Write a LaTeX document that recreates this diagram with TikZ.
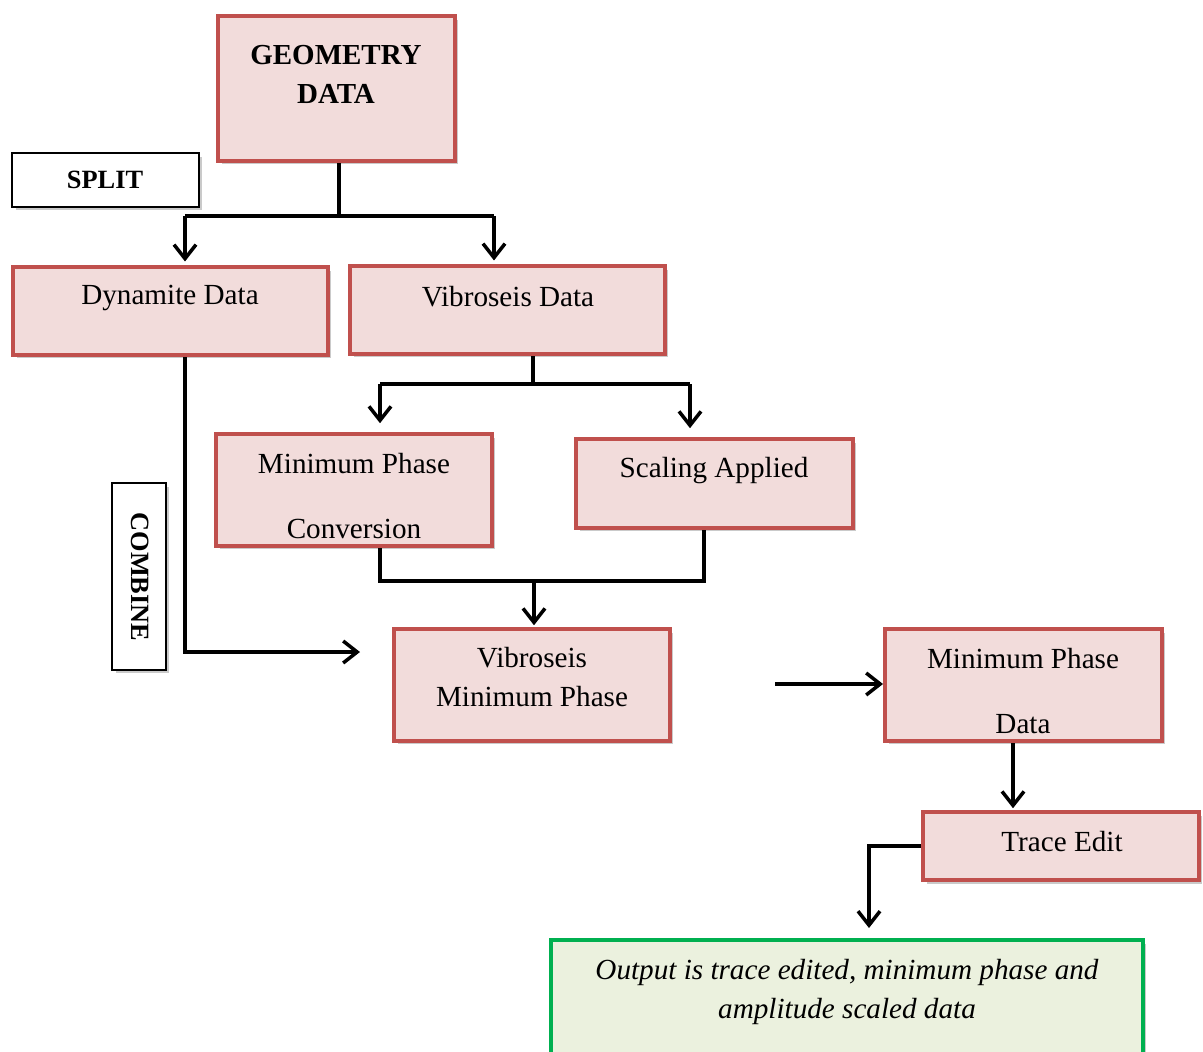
\documentclass[tikz,border=0pt]{standalone}
\usepackage{fontspec}
\setmainfont{Liberation Serif}
\usepackage{xcolor}
\definecolor{clStepLine}{HTML}{C0504D}
\definecolor{clStepFill}{HTML}{F2DCDB}
\definecolor{clOutLine}{HTML}{00B050}
\definecolor{clOutFill}{HTML}{EBF1DE}
\usepackage{tikz}
\usetikzlibrary{arrows.meta,positioning,calc,shadows}

\begin{document}
\begin{tikzpicture}[x=0.02cm,y=-0.02cm,
  every node/.style={font=\fontsize{16.6}{19}\selectfont,inner sep=0pt},
  boxshadow/.style={drop shadow={shadow xshift=0.07cm,shadow yshift=-0.07cm,opacity=0.35,fill=black!60}},
  stepbox/.style={draw=clStepLine,fill=clStepFill,line width=2.3pt,boxshadow},
  tagbox/.style={draw=black,fill=white,line width=1.2pt,boxshadow},
  outbox/.style={draw=clOutLine,fill=clOutFill,line width=2.3pt,boxshadow},
  flow/.style={line width=2pt},
  flowarr/.style={flow,-{Straight Barb[length=0.28cm,width=0.44cm]}}]
  \clip (0,0) rectangle (1203,1051);
  % boxes
  \node[stepbox,minimum width=4.74cm,minimum height=2.9cm] (geo) at (336.5,88.5) {};
  \node[tagbox,minimum width=3.74cm,minimum height=1.08cm] (split) at (105.5,180) {};
  \node[stepbox,minimum width=6.3cm,minimum height=1.76cm] (dyn) at (170.5,311) {};
  \node[stepbox,minimum width=6.3cm,minimum height=1.76cm] (vib) at (507.5,310) {};
  \node[stepbox,minimum width=5.52cm,minimum height=2.24cm] (mpc) at (354,490) {};
  \node[stepbox,minimum width=5.54cm,minimum height=1.78cm] (scl) at (714.5,483.5) {};
  \node[tagbox,minimum width=1.08cm,minimum height=3.74cm] (comb) at (139,576.5) {};
  \node[stepbox,minimum width=5.52cm,minimum height=2.24cm] (vmp) at (532,685) {};
  \node[stepbox,minimum width=5.54cm,minimum height=2.24cm] (mpd) at (1023.5,685) {};
  \node[stepbox,minimum width=5.52cm,minimum height=1.36cm] (te) at (1061,846) {};
  \node[outbox,minimum width=11.84cm,minimum height=2.4cm] (out) at (847,1000) {};
  % texts
  \node[font=\fontsize{16.5}{22.2}\selectfont\bfseries,align=center] (geoT) at (336,74) {GEOMETRY\\DATA};
  \node[font=\fontsize{15}{18}\selectfont\bfseries] (splitT) at (105,180) {SPLIT};
  \node[font=\fontsize{15}{18}\selectfont\bfseries,rotate=-90] (combT) at (140,577) {COMBINE};
  \node (dynT) at (170,298) {Dynamite Data};
  \node (vibT) at (508,297) {Vibroseis Data};
  \node[font=\fontsize{16.6}{37.5}\selectfont,align=center] (mpcT) at (354,496) {Minimum Phase\\Conversion};
  \node (sclT) at (714,471) {Scaling Applied};
  \node[font=\fontsize{16.6}{22.2}\selectfont,align=center] (vmpT) at (532,677) {Vibroseis\\Minimum Phase};
  \node[font=\fontsize{16.6}{37.5}\selectfont,align=center] (mpdT) at (1023,691) {Minimum Phase\\Data};
  \node (teT) at (1062,842) {Trace Edit};
  \node[font=\fontsize{16.6}{22.2}\selectfont\itshape,align=center] (outT) at (847,992) {Output is trace edited, minimum phase and\\amplitude scaled data};
  % junctions
  \coordinate (sL) at (185,216); \coordinate (sR) at (494,216);
  \coordinate (vL) at (380,384); \coordinate (vR) at (690,384); \coordinate (vM) at (533,384);
  \coordinate (mL) at (380,581); \coordinate (mR) at (704,581); \coordinate (mM) at (534,581);
  \coordinate (dk) at (185,652); \coordinate (cmbEnd) at (360,652);
  \coordinate (fs) at (775,684); \coordinate (mx) at (1013,0);
  \coordinate (oc) at (869,928);
  % connectors
  \draw[flow] (geo.south -| 339,0) -- (339,216);
  \draw[flow] (sL) -- (sR);
  \draw[flowarr,shorten >=2pt] (sL) -- (sL |- dyn.north);
  \draw[flowarr,shorten >=2pt] (sR) -- (sR |- vib.north);
  \draw[flow] (vib.south -| vM) -- (vM);
  \draw[flow] (vL) -- (vR);
  \draw[flowarr,shorten >=5pt] (vL) -- (vL |- mpc.north);
  \draw[flowarr,shorten >=5pt] (vR) -- (vR |- scl.north);
  \draw[flow] (mpc.south -| mL) -- (mL) -- (mR) -- (scl.south -| mR);
  \draw[flowarr,shorten >=1pt] (mM) -- (mM |- vmp.north);
  \draw[flowarr] (dyn.south -| dk) -- (dk) -- (cmbEnd);
  \draw[flowarr] (fs) -- (mpd.west |- fs);
  \draw[flowarr,shorten >=1pt] (mpd.south -| mx) -- (mx |- te.north);
  \draw[flowarr] (te.west) -| (oc);
\end{tikzpicture}
\end{document}
